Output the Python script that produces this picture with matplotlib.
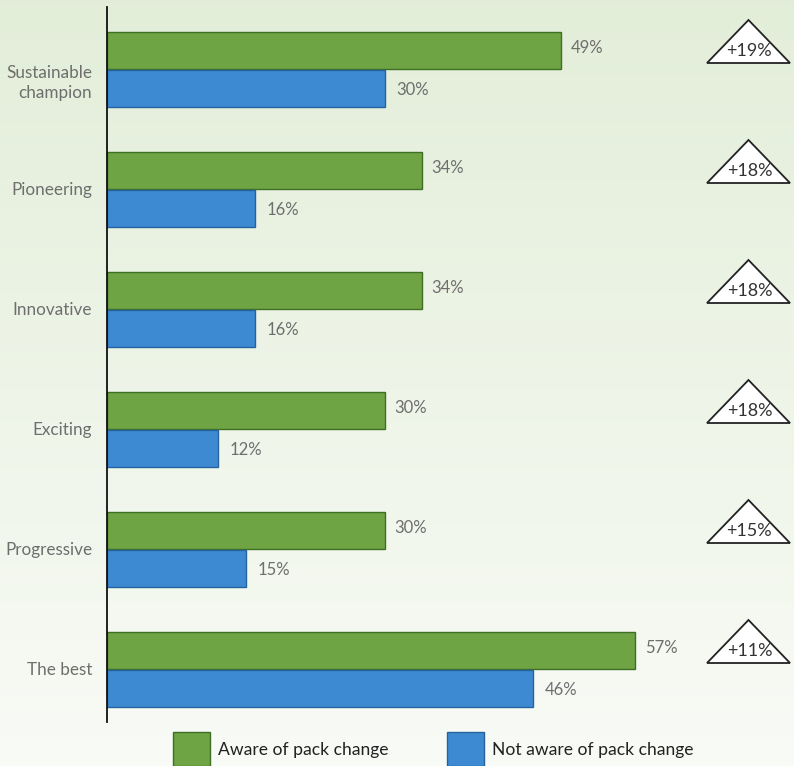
import matplotlib.pyplot as plt
import numpy as np
from matplotlib.patches import Polygon, Rectangle

plt.rcParams['font.family'] = ['Lato', 'DejaVu Sans']

categories = ['Sustainable\nchampion', 'Pioneering', 'Innovative', 'Exciting', 'Progressive', 'The best']
aware = [49, 34, 34, 30, 30, 57]
not_aware = [30, 16, 16, 12, 15, 46]
uplift = ['+19%', '+18%', '+18%', '+18%', '+15%', '+11%']
legend_labels = ['Aware of pack change', 'Not aware of pack change']

green = '#6fa444'
green_edge = '#3f6e25'
blue = '#3d8ad2'
blue_edge = '#25629e'
grey = '#6e6e6e'

W, H = 794, 766
fig = plt.figure(figsize=(W / 100, H / 100), dpi=100)

# soft green gradient background
bg = fig.add_axes([0, 0, 1, 1], zorder=-10)
grad = np.linspace(0, 1, 256).reshape(-1, 1)
top = np.array([0.890, 0.933, 0.851])
bot = np.array([0.975, 0.985, 0.965])
img = top[None, None, :] * (1 - grad[:, :, None]) + bot[None, None, :] * grad[:, :, None]
bg.imshow(img, aspect='auto', extent=[0, 1, 0, 1])
bg.axis('off')

# main axes: x=0 at pixel 107, ~9.27 px per percent
ax_left, ax_top, ax_bot = 107, 7, 722
ax = fig.add_axes([ax_left / W, (H - ax_bot) / H, (W - ax_left) / W, (ax_bot - ax_top) / H])
ax.set_facecolor('none')
px_per = 9.27
ax.set_xlim(0, (W - ax_left) / px_per)
ax.set_ylim(ax_bot, ax_top)

centers = 69 + 120 * np.arange(len(categories))
bh = 37
ax.barh(centers - 19, aware, height=bh, color=green, edgecolor=green_edge, linewidth=1)
ax.barh(centers + 19, not_aware, height=bh, color=blue, edgecolor=blue_edge, linewidth=1)

for i, c in enumerate(centers):
    ax.text(aware[i] + 1.0, c - 21, f'{aware[i]}%', ha='left', va='center', fontsize=12,
            color=grey)
    ax.text(not_aware[i] + 1.2, c + 21, f'{not_aware[i]}%', ha='left', va='center', fontsize=12,
            color=grey)
    ly = c + 14 if '\n' in categories[i] else c + 1
    ax.text(-1.6, ly, categories[i], ha='right', va='center', fontsize=12.3, color=grey,
            linespacing=1.3, clip_on=False)
    # uplift triangle
    x0, x1 = (707 - ax_left) / px_per, (790 - ax_left) / px_per
    tri = Polygon([[x0, c - 6], [x1, c - 6], [(x0 + x1) / 2, c - 49]], closed=True,
                  facecolor='white', edgecolor='#222222', linewidth=1.3, clip_on=False)
    ax.add_patch(tri)
    ax.text((x0 + x1) / 2 + 0.1, c - 18, uplift[i], ha='center', va='center', fontsize=13,
            color='#333333')

ax.set_xticks([])
ax.set_yticks([])
for s in ['top', 'right', 'bottom']:
    ax.spines[s].set_visible(False)
ax.spines['left'].set_linewidth(1.3)
ax.spines['left'].set_color('#111111')

# legend drawn at bottom
leg = [(173, green, green_edge, legend_labels[0]), (447, blue, blue_edge, legend_labels[1])]
for x, fc, ec, lab in leg:
    fig.add_artist(Rectangle((x / W, 0), 37 / W, (H - 732) / H, transform=fig.transFigure,
                             facecolor=fc, edgecolor=ec, linewidth=1))
    fig.text((x + 45) / W, (H - 750) / H, lab, ha='left', va='center', fontsize=12.6, color='#222222')

fig.savefig('out.png', dpi=100)
